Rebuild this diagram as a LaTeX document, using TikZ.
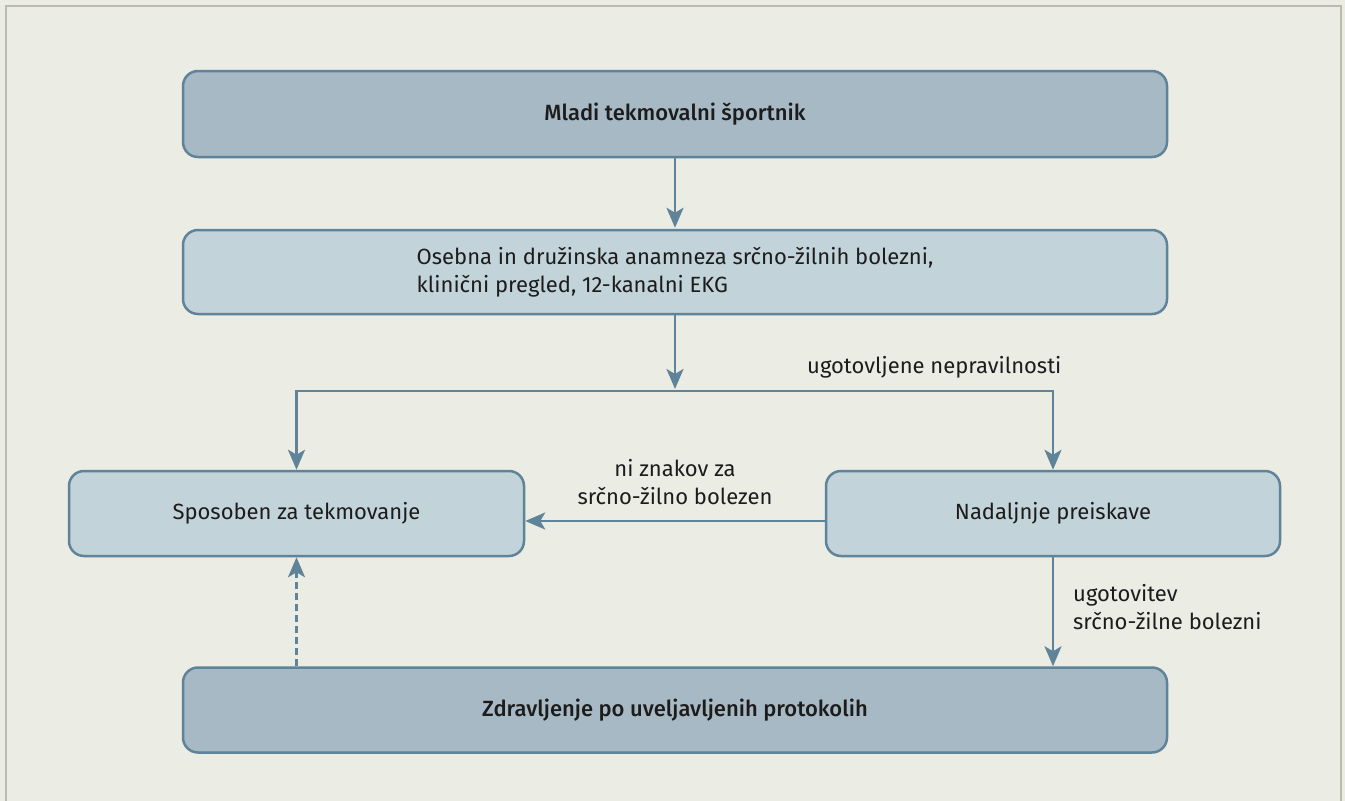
\documentclass[tikz,border=0pt]{standalone}
\usepackage{fontspec}
\setmainfont{Fira Sans}[BoldFont={Fira Sans Medium}]
\usetikzlibrary{arrows.meta,calc}
\definecolor{bg}{HTML}{EBECE4}
\definecolor{frame}{HTML}{BCBBAE}
\definecolor{edge}{HTML}{5F8399}
\definecolor{darkfill}{HTML}{A7B9C4}
\definecolor{lightfill}{HTML}{C2D3D9}
\definecolor{ink}{HTML}{1C1C1C}
\tikzset{
  boxbase/.style={draw=edge, line width=2.5pt, rounded corners=15pt, inner sep=0pt, text=ink, font=\fontsize{22}{28.5}\selectfont},
  darkbox/.style={boxbase, fill=darkfill, font=\fontsize{22}{28.5}\selectfont\bfseries},
  lightbox/.style={boxbase, fill=lightfill},
  arr/.style={draw=edge, line width=2.5pt, -{Stealth[length=20pt,width=17pt,inset=5pt]}},
  dasharr/.style={arr, dash pattern=on 7pt off 4pt},
  lbl/.style={text=ink, inner sep=0pt, font=\fontsize{22}{28.5}\selectfont}
}
\begin{document}
\begin{tikzpicture}[x=1pt,y=-1pt]
\fill[bg] (0,0) rectangle (1345,801);
\useasboundingbox (0,0) rectangle (1345,801);
\draw[frame, line width=2pt] (6,801) -- (6,6) -- (1341,6) -- (1341,801);

\node[darkbox, minimum width=984pt, minimum height=86pt] (top) at (675,114) {Mladi tekmovalni športnik};
\node[lightbox, minimum width=984pt, minimum height=84pt, align=left] (exam) at (675,272)
  {Osebna in družinska anamneza srčno-žilnih bolezni,\\klinični pregled, 12-kanalni EKG};
\node[lightbox, minimum width=455pt, minimum height=85pt] (fit) at (296.5,513.5) {Sposoben za tekmovanje};
\node[lightbox, minimum width=454pt, minimum height=85pt] (further) at (1053,513.5) {Nadaljnje preiskave};
\node[darkbox, minimum width=984pt, minimum height=85pt] (treat) at (675,710) {Zdravljenje po uveljavljenih protokolih};

\coordinate (split) at (675,391);

\draw[arr, shorten >=1pt] (top.south) -- (exam.north);
\draw[arr, shorten >=2pt] (exam.south) -- (split);
\draw[arr] (split) -| (fit.north);
\draw[arr] (split) -| (further.north);
\draw[arr] ($(further.west)+(0,7.5)$) -- ($(fit.east)+(0,7.5)$);
\draw[arr] (further.south) -- (further.south |- treat.north);
\draw[dasharr] (fit.south |- treat.north) -- (fit.south);

\node[lbl, anchor=base west] (l1) at (807,373) {ugotovljene nepravilnosti};
\node[lbl, align=center] (l2) at (675,482) {ni znakov za\\srčno-žilno bolezen};
\node[lbl, align=left, anchor=west] (l3) at (1073,607) {ugotovitev\\srčno-žilne bolezni};
\end{tikzpicture}
\end{document}
